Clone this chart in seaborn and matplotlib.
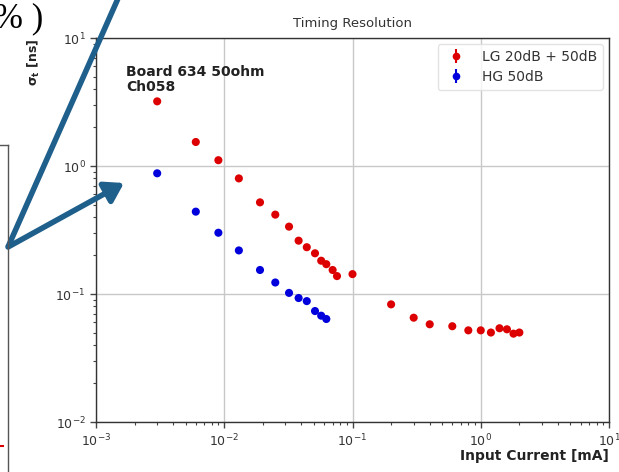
import numpy as np
import pandas as pd
import seaborn as sns
import matplotlib
matplotlib.use("Agg")
import matplotlib.pyplot as plt
from matplotlib.lines import Line2D
from matplotlib.patches import FancyArrowPatch
from matplotlib.ticker import LogLocator, NullFormatter

# ---- data ----
lg_current = [0.003, 0.006, 0.009, 0.013, 0.019, 0.025, 0.032, 0.038, 0.044, 0.051,
              0.057, 0.0625, 0.070, 0.0757, 0.1, 0.2, 0.3, 0.4, 0.6, 0.8, 1.0, 1.2,
              1.4, 1.6, 1.8, 2.0]
lg_sigma = [3.2, 1.54, 1.11, 0.80, 0.52, 0.417, 0.336, 0.261, 0.232, 0.208,
            0.182, 0.171, 0.154, 0.138, 0.143, 0.083, 0.0653, 0.058, 0.056, 0.052,
            0.052, 0.050, 0.054, 0.053, 0.049, 0.050]
hg_current = [0.003, 0.006, 0.009, 0.013, 0.019, 0.025, 0.032, 0.038, 0.044, 0.051,
              0.057, 0.0625]
hg_sigma = [0.877, 0.44, 0.301, 0.219, 0.154, 0.123, 0.102, 0.093, 0.088, 0.0736,
            0.0677, 0.0638]
series_labels = ["LG 20dB + 50dB", "HG 50dB"]
series_colors = ["#dd0000", "#0000dd"]

df = pd.concat([
    pd.DataFrame({"current": lg_current, "sigma": lg_sigma, "series": series_labels[0]}),
    pd.DataFrame({"current": hg_current, "sigma": hg_sigma, "series": series_labels[1]}),
])

plt.rcdefaults()
plt.rcParams["font.family"] = ["DejaVu Sans"]
plt.rcParams["xtick.minor.visible"] = False

W, H = 619, 472
fig = plt.figure(figsize=(W / 100, H / 100), dpi=100)

def fx(x):
    return x / W

def fy(y):
    return 1 - y / H

ax = fig.add_axes([fx(96), fy(422), (609 - 96) / W, (422 - 38) / H])
sns.scatterplot(data=df, x="current", y="sigma", hue="series",
                palette=dict(zip(series_labels, series_colors)),
                s=34, edgecolor="none", linewidth=0, ax=ax, legend=False, zorder=3)
ax.set_xscale("log")
ax.set_yscale("log")
ax.set_xlim(1e-3, 1e1)
ax.set_ylim(1e-2, 1e1)
for axis in (ax.xaxis, ax.yaxis):
    axis.set_major_locator(LogLocator(base=10, numticks=10))
    axis.set_minor_locator(LogLocator(base=10, subs=np.arange(2, 10), numticks=50))
    axis.set_minor_formatter(NullFormatter())
ax.grid(True, which="major", color="#c8c8c8", linewidth=1.0)
ax.set_axisbelow(True)
ax.tick_params(which="both", direction="out", bottom=True, left=True, top=False,
               right=False, colors="#444444", labelsize=9, labelcolor="#333333")
ax.tick_params(which="major", length=4, width=1)
ax.tick_params(which="minor", length=2.5, width=0.8)
for s in ax.spines.values():
    s.set_color("#333333")
    s.set_linewidth(1.0)

ax.set_title("Timing Resolution", fontsize=9.5, color="#333333", pad=8)
ax.set_xlabel("Input Current [mA]", fontsize=10, fontweight="bold", loc="right",
              color="#222222", labelpad=0)
ax.set_ylabel(r"$\mathbf{\sigma_t}$ [ns]", fontsize=9, fontweight="bold", loc="top",
              color="#222222", labelpad=10)
ax.text(0.058, 0.93, "Board 634 50ohm\nCh058", transform=ax.transAxes, fontsize=10,
        fontweight="bold", va="top", ha="left", color="#222222", linespacing=1.1)

# legend with errorbar style handles
handles = []
for lab, col in zip(series_labels, series_colors):
    h = ax.errorbar([], [], yerr=[], fmt="o", color=col, markersize=4.5, capsize=2.5,
                    label=lab)
    handles.append(h)
leg = ax.legend(handles=handles, labels=series_labels, loc="upper right", fontsize=10,
                frameon=True, framealpha=0.8, edgecolor="#dddddd", handletextpad=1.0,
                borderaxespad=0.45, labelspacing=0.45, handlelength=1.8)
for t in leg.get_texts():
    t.set_color("#333333")

# slide decorations around the chart
arrow_col = "#1f5f8c"
fig.add_artist(Line2D([fx(120), fx(8)], [fy(-6), fy(247)], color=arrow_col, lw=4,
                      transform=fig.transFigure, solid_capstyle="butt"))
fig.add_artist(FancyArrowPatch((fx(8), fy(247)), (fx(124), fy(183)),
                               transform=fig.transFigure, color=arrow_col, lw=4,
                               arrowstyle="-|>,head_length=11,head_width=7",
                               shrinkA=0, shrinkB=0))
fig.add_artist(Line2D([fx(8), fx(8)], [fy(145), fy(480)], color="#555555", lw=1,
                      transform=fig.transFigure))
fig.add_artist(Line2D([fx(-2), fx(8)], [fy(145), fy(145)], color="#555555", lw=1,
                      transform=fig.transFigure))
fig.add_artist(Line2D([fx(0), fx(3)], [fy(446), fy(446)], color="#dd0000", lw=1.5,
                      transform=fig.transFigure))
fig.text(fx(43), fy(27), "% )", fontsize=25, family="Liberation Serif", color="black",
         ha="right", va="baseline")

fig.savefig("out.png", dpi=100)
